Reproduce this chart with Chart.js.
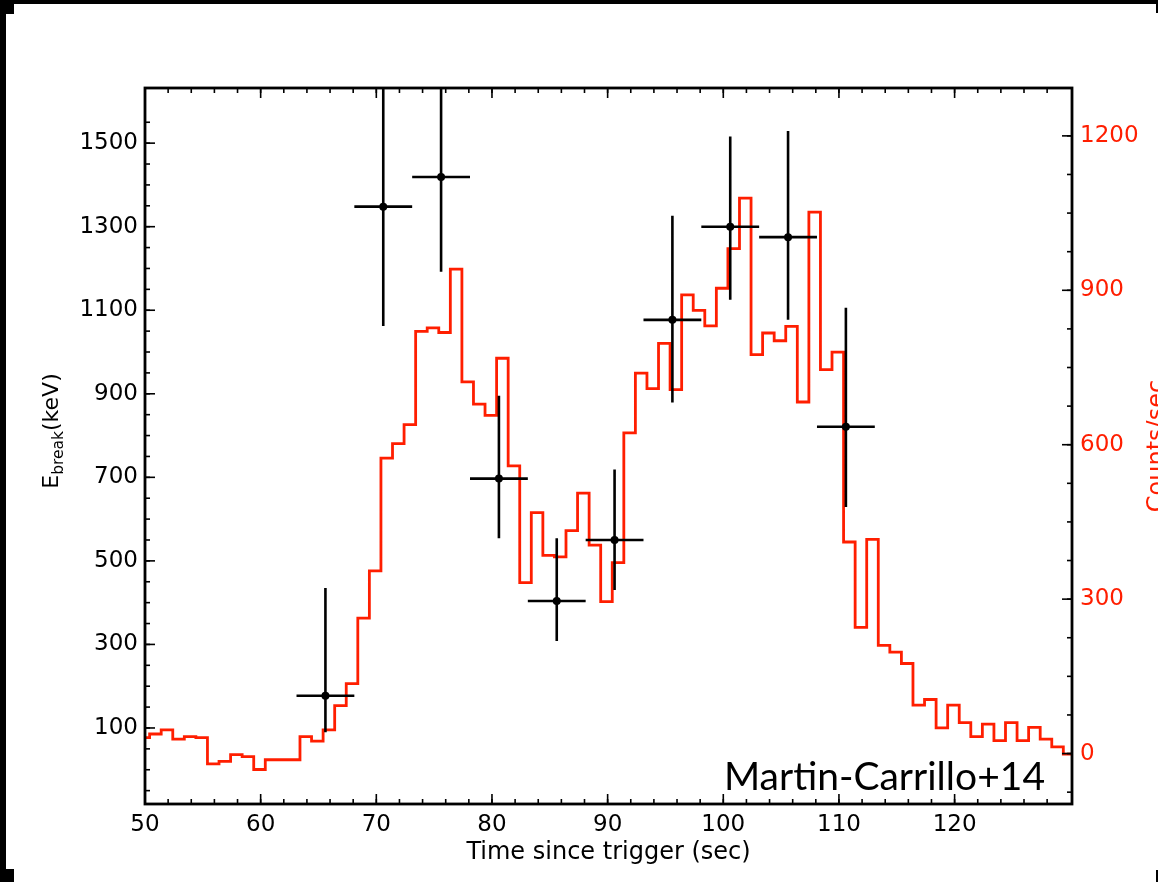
<!DOCTYPE html>
<html>
<head>
<meta charset="utf-8">
<script src="https://cdn.jsdelivr.net/npm/chart.js@4.4.1/dist/chart.umd.min.js"></script>
<style>
  html, body { margin: 0; padding: 0; background: #fff; }
  #wrap { width: 1158px; height: 882px; }
</style>
</head>
<body>
<div id="wrap"><canvas id="breakChart" width="1158" height="882"></canvas></div>
<script>
// light curve, counts/sec in 1 s bins (left edge of each bin)
const binStart = [
  49.4, 50.4, 51.4, 52.4, 53.4, 54.4, 55.4, 56.4, 57.4, 58.4,
  59.4, 60.4, 61.4, 62.4, 63.4, 64.4, 65.4, 66.4, 67.4, 68.4,
  69.4, 70.4, 71.4, 72.4, 73.4, 74.4, 75.4, 76.4, 77.4, 78.4,
  79.4, 80.4, 81.4, 82.4, 83.4, 84.4, 85.4, 86.4, 87.4, 88.4,
  89.4, 90.4, 91.4, 92.4, 93.4, 94.4, 95.4, 96.4, 97.4, 98.4,
  99.4, 100.4, 101.4, 102.4, 103.4, 104.4, 105.4, 106.4, 107.4, 108.4,
  109.4, 110.4, 111.4, 112.4, 113.4, 114.4, 115.4, 116.4, 117.4, 118.4,
  119.4, 120.4, 121.4, 122.4, 123.4, 124.4, 125.4, 126.4, 127.4, 128.4,
  129.4, 130.4
];
const countRate = [
  31, 38, 46, 28, 33, 31, -20, -15, -2, -6,
  -31, -12, -12, -12, 33, 24, 46, 93, 136, 263,
  355, 574, 602, 639, 820, 827, 818, 941, 722, 679,
  657, 768, 559, 332, 468, 385, 382, 433, 506, 405,
  295, 371, 623, 739, 709, 797, 707, 891, 861, 831,
  904, 981, 1079, 775, 817, 802, 830, 683, 1052, 746,
  780, 411, 245, 416, 210, 197, 175, 94, 105, 50,
  94, 60, 33, 57, 25, 60, 25, 51, 28, 13,
  -1, -1
];

// break energy fits (keV), 5 s intervals
const breakTime = [65.6, 70.6, 75.6, 80.6, 85.6, 90.6, 95.6, 100.6, 105.6, 110.6];
const breakHalfWidth = [2.5, 2.5, 2.5, 2.5, 2.5, 2.5, 2.5, 2.5, 2.5, 2.5];
const breakEnergy = [177, 1348, 1419, 697, 404, 550, 1077, 1300, 1275, 821];
const breakLow = [90, 1062, 1192, 554, 308, 430, 879, 1125, 1077, 629];
const breakHigh = [435, 1750, 1750, 895, 554, 719, 1326, 1516, 1529, 1106];

const xTickLabels = [50, 60, 70, 80, 90, 100, 110, 120];
const leftTickLabels = [100, 300, 500, 700, 900, 1100, 1300, 1500];
const rightTickLabels = [0, 300, 600, 900, 1200];

const red = "#ff1e00";

function range(from, to, step) {
  const out = [];
  for (let v = from; v <= to + 1e-9; v += step) out.push(v);
  return out;
}
const xMinor = range(52, 128, 2);
const leftMinor = range(-50, 1550, 50);
const rightMinor = range(-75, 1200, 75);

const countsData = binStart.map((t, i) => ({ x: t, y: countRate[i] }));
const pointsData = breakTime.map((t, i) => ({ x: t, y: breakEnergy[i] }));
const errorData = [];
breakTime.forEach((t, i) => {
  errorData.push(
    { x: t - breakHalfWidth[i], y: breakEnergy[i] },
    { x: t + breakHalfWidth[i], y: breakEnergy[i] },
    { x: t, y: null },
    { x: t, y: breakLow[i] },
    { x: t, y: breakHigh[i] },
    { x: t, y: null }
  );
});

const fixedTicks = (values) => (scale) => {
  scale.ticks = values.map((v) => ({ value: v }));
};

// inward ticks, frame and extra texts
const framePlugin = {
  id: "framePlugin",
  beforeDraw(chart) {
    const { ctx } = chart;
    ctx.save();
    ctx.fillStyle = "#000";
    ctx.fillRect(0, 0, 1158, 4);
    ctx.fillRect(0, 0, 6, 869);
    ctx.fillRect(6, 4, 8, 10);
    ctx.fillRect(0, 869, 14, 13);
    ctx.fillRect(1156, 0, 2, 13);
    ctx.fillRect(1156, 870, 2, 12);
    ctx.restore();
  },
  afterDraw(chart) {
    const { ctx, chartArea: a, scales } = chart;
    const seg = (x1, y1, x2, y2) => {
      ctx.beginPath();
      ctx.moveTo(x1, y1);
      ctx.lineTo(x2, y2);
      ctx.stroke();
    };
    ctx.save();
    ctx.strokeStyle = "#000";
    ctx.lineWidth = 1.6;
    const xTicks = (vals, len) => vals.forEach((v) => {
      const p = scales.x.getPixelForValue(v);
      seg(p, a.bottom, p, a.bottom - len);
      seg(p, a.top, p, a.top + len);
    });
    xTicks(xMinor, 5);
    xTicks(xTickLabels, 10);
    const yTicks = (scale, vals, len, left) => vals.forEach((v) => {
      const p = scale.getPixelForValue(v);
      if (left) seg(a.left, p, a.left + len, p);
      else seg(a.right, p, a.right - len, p);
    });
    yTicks(scales.y, leftMinor, 5, true);
    yTicks(scales.y, leftTickLabels, 10, true);
    yTicks(scales.y1, rightMinor, 5, false);
    yTicks(scales.y1, rightTickLabels, 10, false);

    ctx.lineWidth = 2.8;
    ctx.strokeRect(a.left, a.top, a.right - a.left, a.bottom - a.top);

    // left axis title with subscript
    ctx.fillStyle = "#000";
    ctx.textBaseline = "alphabetic";
    ctx.translate(58, 431);
    ctx.rotate(-Math.PI / 2);
    const big = "22px 'DejaVu Sans'";
    const small = "15.5px 'DejaVu Sans'";
    ctx.font = big;
    const wE = ctx.measureText("E").width;
    const wRest = ctx.measureText("(keV)").width;
    ctx.font = small;
    const wSub = ctx.measureText("break").width;
    let x0 = -(wE + wSub + wRest) / 2;
    ctx.font = big;
    ctx.fillText("E", x0, 0);
    ctx.font = small;
    ctx.fillText("break", x0 + wE, 5);
    ctx.font = big;
    ctx.fillText("(keV)", x0 + wE + wSub, 0);
    ctx.restore();

    // right axis title, runs off the edge
    ctx.save();
    ctx.fillStyle = red;
    ctx.font = "24px 'DejaVu Sans'";
    ctx.textAlign = "center";
    ctx.translate(1164, 446);
    ctx.rotate(-Math.PI / 2);
    ctx.fillText("Counts/sec", 0, 0);
    ctx.restore();

    ctx.save();
    ctx.fillStyle = "#000";
    ctx.font = "39px Lato";
    ctx.textAlign = "right";
    ctx.fillText("Martin-Carrillo+14", 1045, 790);
    ctx.restore();
  }
};

Chart.defaults.font.family = "'DejaVu Sans'";

new Chart(document.getElementById("breakChart"), {
  type: "line",
  data: {
    datasets: [
      {
        type: "scatter",
        data: pointsData,
        yAxisID: "y",
        pointRadius: 4,
        pointBackgroundColor: "#000",
        pointBorderWidth: 0
      },
      {
        data: errorData,
        yAxisID: "y",
        borderColor: "#000",
        borderWidth: 2.6,
        pointRadius: 0,
        spanGaps: false,
        fill: false
      },
      {
        data: countsData,
        yAxisID: "y1",
        stepped: "before",
        borderColor: red,
        borderWidth: 2.8,
        pointRadius: 0,
        fill: false
      }
    ]
  },
  options: {
    responsive: false,
    animation: false,
    devicePixelRatio: 1,
    events: [],
    layout: { padding: { top: 88, left: 0, right: 0, bottom: 0 } },
    plugins: { legend: { display: false }, tooltip: { enabled: false } },
    scales: {
      x: {
        type: "linear",
        min: 50,
        max: 130.15,
        afterBuildTicks: fixedTicks(xTickLabels),
        afterFit: (s) => { s.height = 78; },
        grid: { display: false, drawTicks: false },
        border: { display: false },
        ticks: {
          color: "#000",
          padding: 7,
          maxRotation: 0,
          autoSkip: false,
          font: { size: 23 },
          callback: (v) => String(v)
        },
        title: {
          display: true,
          text: "Time since trigger (sec)",
          color: "#000",
          font: { size: 24 },
          padding: { top: 0, bottom: 15 }
        }
      },
      y: {
        type: "linear",
        position: "left",
        min: -82,
        max: 1632,
        afterBuildTicks: fixedTicks(leftTickLabels),
        afterFit: (s) => { s.width = 145; },
        grid: { display: false, drawTicks: false },
        border: { display: false },
        ticks: {
          color: "#000",
          padding: 7,
          autoSkip: false,
          font: { size: 23 },
          callback: (v) => String(v)
        }
      },
      y1: {
        type: "linear",
        position: "right",
        min: -98,
        max: 1293,
        afterBuildTicks: fixedTicks(rightTickLabels),
        afterFit: (s) => { s.width = 86; },
        grid: { display: false, drawTicks: false },
        border: { display: false },
        ticks: {
          color: red,
          padding: 8,
          autoSkip: false,
          font: { size: 23 },
          callback: (v) => String(v)
        }
      }
    }
  },
  plugins: [framePlugin]
});
</script>
</body>
</html>
